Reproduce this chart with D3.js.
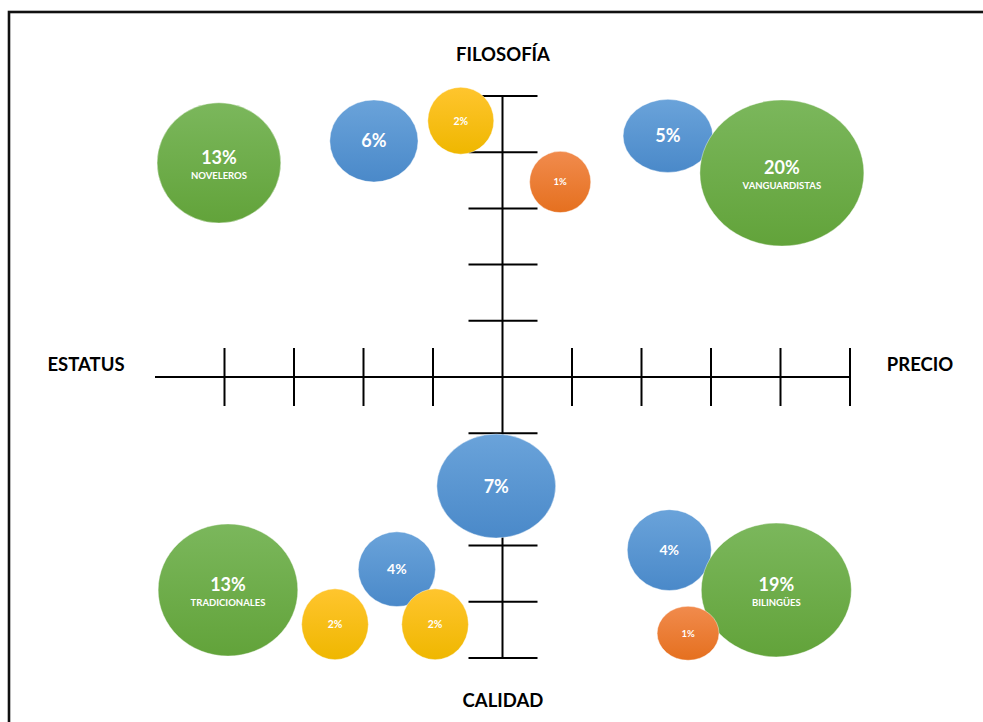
<!DOCTYPE html>
<html><head><meta charset="utf-8">
<script src="https://cdn.jsdelivr.net/npm/d3@7"></script>
<style>
html,body{margin:0;padding:0;background:#fff;}
svg{display:block;font-family:Lato,"Open Sans",sans-serif;}
</style></head>
<body>
<svg id="chart" width="983" height="722"></svg>
<script>
// ---- data ----
const axisTitles = ["FILOSOFÍA", "CALIDAD", "ESTATUS", "PRECIO"]; // top, bottom, left, right
const xTicks = [-4, -3, -2, -1, 1, 2, 3, 4, 5];
const yTicks = [-5, -4, -3, -2, -1, 1, 2, 3, 4, 5];
const segments = ["Noveleros","b6","y2a","o1a","b5","Vanguardistas","b7","Tradicionales","b4a","y2b","y2c","b4b","Bilingües","o1b"];
const percents = [13, 6, 2, 1, 5, 20, 7, 13, 4, 2, 2, 4, 19, 1];
const categoryNames = ["NOVELEROS","","","","","VANGUARDISTAS","","TRADICIONALES","","","","","BILINGÜES",""];
const groups = ["green","blue","yellow","orange","blue","green","blue","green","blue","yellow","yellow","blue","green","orange"];
const xValues = [-4.08, -1.85, -0.60, 0.83, 2.38, 4.02, -0.09, -3.95, -1.52, -2.41, -0.97, 2.40, 3.94, 2.67];
const yValues = [3.81, 4.20, 4.56, 3.47, 4.29, 3.63, -1.94, -3.79, -3.42, -4.40, -4.40, -3.08, -3.79, -4.56];
const widthValues = [1.78, 1.27, 0.95, 0.88, 1.29, 2.36, 1.71, 2.01, 1.11, 0.96, 0.96, 1.21, 2.16, 0.89];
const heightValues = [2.14, 1.46, 1.19, 1.09, 1.30, 2.60, 1.85, 2.35, 1.33, 1.26, 1.26, 1.44, 2.38, 0.96];
const groupOrder = ["blue","green","yellow","orange"];
const groupColors = {
  green: ["#7bb75c", "#62a33a"],
  blue: ["#6aa3da", "#4a89c9"],
  yellow: ["#ffc52e", "#efb700"],
  orange: ["#f18b4d", "#e5701f"]
};

// ---- scales ----
const svg = d3.select("#chart");
const x = d3.scaleLinear().domain([-5, 5]).range([155, 850]);
const y = d3.scaleLinear().domain([-5, 5]).range([658, 96]);
const fontSize = d3.scaleThreshold().domain([2, 4, 5]).range([9.5, 10.5, 14, 18]);

// frame
svg.append("rect").attr("x", 9).attr("y", 12).attr("width", 1000).attr("height", 760)
  .attr("fill", "none").attr("stroke", "#111").attr("stroke-width", 2.6);

// gradients
const defs = svg.append("defs");
Object.entries(groupColors).forEach(([k, c]) => {
  const g = defs.append("linearGradient").attr("id", "grad-" + k)
    .attr("x1", 0).attr("y1", 0).attr("x2", 0).attr("y2", 1);
  g.append("stop").attr("offset", "0%").attr("stop-color", c[0]);
  g.append("stop").attr("offset", "100%").attr("stop-color", c[1]);
});

// axes
const ax = svg.append("g").attr("stroke", "#000").attr("stroke-width", 2);
ax.append("line").attr("x1", x(-5)).attr("x2", x(5)).attr("y1", y(0)).attr("y2", y(0));
ax.append("line").attr("x1", x(0)).attr("x2", x(0)).attr("y1", y(5)).attr("y2", y(-5));
ax.selectAll(".xt").data(xTicks).join("line")
  .attr("x1", d => x(d)).attr("x2", d => x(d))
  .attr("y1", y(0) - 29).attr("y2", y(0) + 29);
ax.selectAll(".yt").data(yTicks).join("line")
  .attr("x1", x(0) - 34).attr("x2", x(0) + 35)
  .attr("y1", d => y(d)).attr("y2", d => y(d));

// axis titles
const titleStyle = sel => sel.attr("font-weight", 700).attr("font-size", 18.5).attr("fill", "#000").attr("text-anchor", "middle");
svg.append("text").attr("x", 503).attr("y", 61).text(axisTitles[0]).call(titleStyle);
svg.append("text").attr("x", 503).attr("y", 707).text(axisTitles[1]).call(titleStyle);
svg.append("text").attr("x", 86).attr("y", 371).text(axisTitles[2]).call(titleStyle);
svg.append("text").attr("x", 920).attr("y", 371).text(axisTitles[3]).call(titleStyle);

// bubbles
const data = segments.map((s, i) => ({
  id: s, pct: percents[i], cat: categoryNames[i], group: groups[i],
  x: xValues[i], y: yValues[i], w: widthValues[i], h: heightValues[i]
}));
data.sort((a, b) => groupOrder.indexOf(a.group) - groupOrder.indexOf(b.group));

const b = svg.append("g").selectAll("g").data(data).join("g")
  .attr("transform", d => `translate(${x(d.x)},${y(d.y)})`);
b.append("ellipse")
  .attr("rx", d => (x(d.w) - x(0)) / 2)
  .attr("ry", d => (y(0) - y(d.h)) / 2)
  .attr("fill", d => `url(#grad-${d.group})`)
  .attr("stroke", "#fff").attr("stroke-opacity", 0.5).attr("stroke-width", 0.8);
b.append("text")
  .attr("text-anchor", "middle")
  .attr("fill", "#fff").attr("font-weight", 700)
  .attr("font-size", d => fontSize(d.pct))
  .attr("y", d => d.cat ? -5 : 0)
  .attr("dy", "0.36em")
  .text(d => d.pct + "%");
b.filter(d => d.cat).append("text")
  .attr("text-anchor", "middle")
  .attr("fill", "#fff").attr("font-weight", 700)
  .attr("font-size", 9.5)
  .attr("y", 13).attr("dy", "0.36em")
  .text(d => d.cat);
</script>
</body></html>
